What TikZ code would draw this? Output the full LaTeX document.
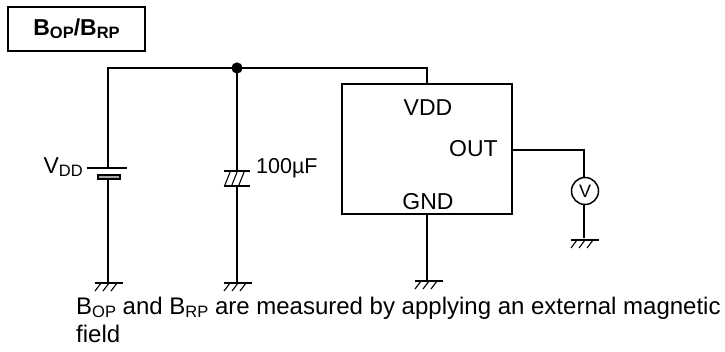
\documentclass[tikz,border=0pt]{standalone}
\usepackage{fontspec}
\setmainfont{Liberation Sans}
\newcommand{\subs}[1]{\raisebox{-2.5pt}{\fontsize{16.5}{16.5}\selectfont #1}}
\tikzset{
 x=1pt,y=-1pt,
 wire/.style={line width=1.8pt,black},
 thick box/.style={draw,line width=2pt},
 lbl/.style={inner sep=0pt,font=\fontsize{23}{26}\selectfont},
 gnd/.style={line width=1.5pt},
}
\newcommand{\gndsym}[2]{%
 \draw[gnd] (#1-13,#2) -- (#1+15,#2);
 \foreach \d in {-7,1,9}{\draw[line width=1.1pt] (#1+\d,#2) -- (#1+\d-6,#2+8);}
}
\begin{document}
\begin{tikzpicture}
\useasboundingbox (0,0) rectangle (725,352);
\node[thick box,minimum width=137pt,minimum height=44pt,inner sep=0pt] (title) at (76.5,29) {\fontsize{23}{26}\selectfont\bfseries B\subs{OP}/B\subs{RP}};
\node[thick box,minimum width=170pt,minimum height=130pt,inner sep=0pt] (ic) at (426.5,149) {};
\node[lbl] (vddl) at (428,108) {VDD};
\node[lbl] (outl) at (473.5,149) {OUT};
\node[lbl] (gndl) at (428,202) {GND};
\node[draw,circle,line width=1.5pt,minimum size=27pt,inner sep=0pt,font=\fontsize{18}{18}\selectfont] (vm) at (585,191) {V};
\coordinate (tl) at (108,68);
\coordinate (j) at (237,68);
\coordinate (pin) at (427,68);
\coordinate (vin) at (427,84);
\coordinate (batp) at (108,168);
\coordinate (batn) at (108,179);
\coordinate (g1) at (108,283);
\coordinate (c1) at (237,171);
\coordinate (c2) at (237,186);
\coordinate (g2) at (237,283);
\coordinate (gi) at (427,214);
\coordinate (g3) at (427,281);
\coordinate (o1) at (512,150);
\coordinate (o2) at (584,150);
\coordinate (g4) at (584,238);
\draw[wire] (batp) -- (tl) -- (pin) -- (vin);
\draw[wire] (j) -- (c1);
\draw[wire] (c2) -- (g2);
\draw[wire] (batn) -- (g1);
\draw[wire] (gi) -- (g3);
\draw[wire] (o1) -- (o2) -- (vm.north -| o2);
\draw[wire] (vm.south -| g4) -- (g4);
\fill (j) circle (5.6);
% battery
\draw[line width=1.6pt] (87,168) -- (127,168);
\draw[line width=1.4pt,fill=black!35] (98,175) rectangle (120,179);
\node[lbl,anchor=base east] (vdd) at (83,174) {V\subs{DD}};
% capacitor
\draw[line width=1.6pt] (224,171) -- (249.5,171);
\draw[line width=1.6pt] (224,186) -- (249.5,186);
\foreach \d in {0,7,14}{\draw[line width=1.1pt] (230.5+\d,171) -- (224.5+\d,186);}
\node[lbl,anchor=base west,font=\fontsize{21.5}{24}\selectfont] (cap) at (256,174) {100µF};
% grounds
\gndsym{108}{283}
\gndsym{237}{283}
\gndsym{428}{281}
\gndsym{584}{240}
\node[lbl,anchor=base west,font=\fontsize{24}{27}\selectfont] (n1) at (76,315) {B\subs{OP} and B\subs{RP} are measured by applying an external magnetic};
\node[lbl,anchor=base west,font=\fontsize{24}{27}\selectfont] (n2) at (76,342.5) {field};
\end{tikzpicture}
\end{document}
